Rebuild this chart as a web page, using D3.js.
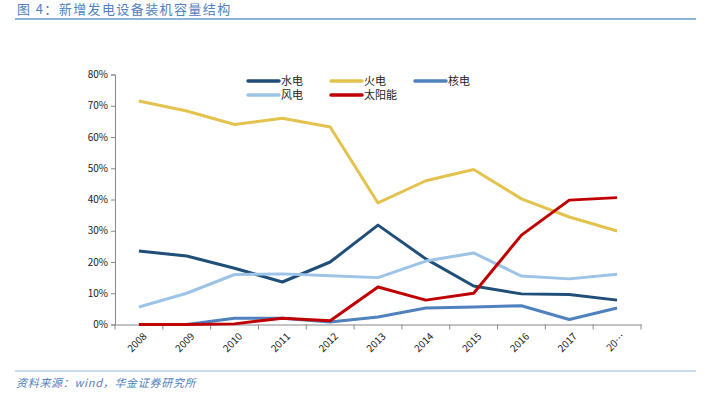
<!DOCTYPE html>
<html>
<head>
<meta charset="utf-8">
<script src="https://cdn.jsdelivr.net/npm/d3@7"></script>
<style>
  body { margin: 0; background: #fff; }
  text { font-family: "Noto Sans CJK SC", "Liberation Sans", Arial, sans-serif; }
</style>
</head>
<body>
<script>
// categories and series (percent of newly added capacity)
var years = ["2008", "2009", "2010", "2011", "2012", "2013", "2014", "2015", "2016", "2017", "2018"];
var yearLabels = ["2008", "2009", "2010", "2011", "2012", "2013", "2014", "2015", "2016", "2017", "20…"];
var hydro = [23.5, 21.9, 18.0, 13.6, 20.0, 31.8, 21.0, 12.3, 9.8, 9.6, 7.8];
var thermal = [71.5, 68.3, 64.0, 66.0, 63.2, 38.9, 46.0, 49.6, 40.2, 34.4, 29.9];
var nuclear = [0, 0, 2.0, 2.0, 0.8, 2.4, 5.3, 5.6, 6.0, 1.6, 5.3];
var wind = [5.6, 10.0, 16.0, 16.2, 15.6, 15.0, 20.3, 22.9, 15.5, 14.6, 16.1];
var solar = [0, 0, 0.2, 2.0, 1.2, 12.0, 7.8, 10.0, 28.6, 39.8, 40.6];
var yTicks = [0, 10, 20, 30, 40, 50, 60, 70, 80];

var series = [
  { name: "水电", values: hydro, color: "#1f4e79" },
  { name: "火电", values: thermal, color: "#e3c24e" },
  { name: "核电", values: nuclear, color: "#4f81bd" },
  { name: "风电", values: wind, color: "#9dc3e6" },
  { name: "太阳能", values: solar, color: "#c00000" }
];
// draw order so red sits on top
var drawOrder = [1, 0, 3, 2, 4];

var width = 708, height = 409;
var svg = d3.select("body").append("svg").attr("width", width).attr("height", height);

// title
svg.append("text").attr("x", 17).attr("y", 14)
  .attr("font-size", "13px").attr("fill", "#4f81bd").attr("letter-spacing", "1.4px")
  .text("图 4：新增发电设备装机容量结构");
svg.append("line").attr("x1", 15).attr("x2", 696).attr("y1", 19).attr("y2", 19)
  .attr("stroke", "#8db4dc").attr("stroke-width", 2);

// footer
svg.append("line").attr("x1", 15).attr("x2", 696).attr("y1", 371).attr("y2", 371)
  .attr("stroke", "#8db4dc").attr("stroke-width", 1.2);
svg.append("text").attr("x", 16).attr("y", 387)
  .attr("font-size", "11px").attr("fill", "#4f81bd").attr("font-style", "italic")
  .attr("letter-spacing", "0.7px")
  .text("资料来源：wind，华金证券研究所");

var plotLeft = 115, plotRight = 641, plotTop = 74.5, plotBottom = 324.5;

var x = d3.scaleBand().domain(years).range([plotLeft, plotRight]);
var y = d3.scaleLinear().domain([0, 80]).range([plotBottom, plotTop]);

// y axis
var yAxis = d3.axisLeft(y).tickValues(yTicks).tickSize(4).tickFormat(function(d) { return d + "%"; });
var gy = svg.append("g").attr("transform", "translate(" + plotLeft + ",0)").call(yAxis);
gy.select(".domain").attr("stroke", "#888");
gy.selectAll(".tick line").attr("stroke", "#888");
gy.selectAll(".tick text").attr("font-size", "10px").attr("fill", "#222")
  .attr("font-family", "Liberation Sans, Arial, sans-serif");

// x axis
var xAxis = d3.axisBottom(x).tickSize(0).tickFormat(function(d, i) { return yearLabels[i]; });
var gx = svg.append("g").attr("transform", "translate(0," + plotBottom + ")").call(xAxis);
gx.select(".domain").attr("stroke", "#888");
gx.selectAll(".tick text")
  .attr("font-size", "10px").attr("fill", "#222")
  .attr("font-family", "Liberation Sans, Arial, sans-serif")
  .attr("text-anchor", "end")
  .attr("transform", "translate(6,10) rotate(-45)")
  .attr("dy", "0.35em").attr("y", 0);
// category boundary ticks
var bounds = years.map(function(d) { return x(d); }).concat([plotRight]);
gx.selectAll(".bound").data(bounds).enter().append("line")
  .attr("x1", function(d) { return d; }).attr("x2", function(d) { return d; })
  .attr("y1", 0).attr("y2", 5).attr("stroke", "#888");

// lines
var line = d3.line()
  .x(function(d, i) { return x(years[i]) + x.bandwidth() / 2; })
  .y(function(d) { return y(d); });

drawOrder.forEach(function(k) {
  var s = series[k];
  svg.append("path").datum(s.values)
    .attr("d", line).attr("fill", "none")
    .attr("stroke", s.color).attr("stroke-width", 3)
    .attr("stroke-linejoin", "round");
});

// legend
var legendPos = [[248, 81], [331, 81], [415, 81], [248, 95], [331, 95]];
series.forEach(function(s, i) {
  var p = legendPos[i];
  svg.append("line").attr("x1", p[0]).attr("x2", p[0] + 31).attr("y1", p[1]).attr("y2", p[1])
    .attr("stroke", s.color).attr("stroke-width", 3.5).attr("stroke-linecap", "round");
  svg.append("text").attr("x", p[0] + 33).attr("y", p[1] + 4)
    .attr("font-size", "11px").attr("fill", "#222").text(s.name);
});
</script>
</body>
</html>
